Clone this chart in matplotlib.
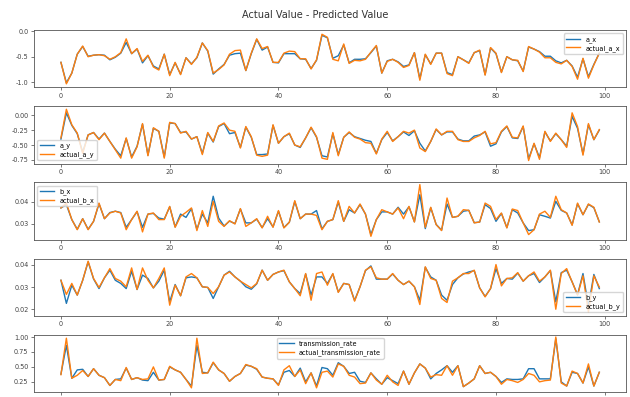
import matplotlib
matplotlib.use("Agg")
import matplotlib.pyplot as plt
import numpy as np

steps = np.arange(100)

a_x = [-0.61, -1.01, -0.82, -0.45, -0.30, -0.49, -0.47, -0.46, -0.47, -0.56,
       -0.51, -0.43, -0.22, -0.44, -0.35, -0.62, -0.48, -0.68, -0.74, -0.45,
       -0.85, -0.62, -0.84, -0.52, -0.64, -0.52, -0.23, -0.39, -0.84, -0.74,
       -0.65, -0.47, -0.44, -0.43, -0.77, -0.44, -0.16, -0.37, -0.31, -0.61,
       -0.62, -0.44, -0.44, -0.44, -0.54, -0.55, -0.73, -0.57, -0.08, -0.13,
       -0.53, -0.48, -0.27, -0.62, -0.55, -0.55, -0.54, -0.42, -0.29, -0.82,
       -0.58, -0.55, -0.60, -0.69, -0.66, -0.42, -0.93, -0.46, -0.64, -0.43,
       -0.43, -0.81, -0.85, -0.50, -0.56, -0.62, -0.42, -0.38, -0.85, -0.33,
       -0.44, -0.80, -0.50, -0.56, -0.58, -0.78, -0.31, -0.35, -0.40, -0.49,
       -0.49, -0.58, -0.62, -0.57, -0.68, -0.90, -0.54, -0.89, -0.65, -0.43]
actual_a_x = [-0.61, -1.03, -0.82, -0.45, -0.29, -0.50, -0.47, -0.46, -0.48, -0.55,
              -0.50, -0.42, -0.15, -0.44, -0.34, -0.59, -0.47, -0.70, -0.76, -0.45,
              -0.87, -0.61, -0.85, -0.52, -0.65, -0.51, -0.23, -0.38, -0.82, -0.75,
              -0.66, -0.45, -0.38, -0.37, -0.77, -0.43, -0.15, -0.34, -0.30, -0.61,
              -0.61, -0.43, -0.39, -0.40, -0.54, -0.54, -0.74, -0.56, -0.06, -0.12,
              -0.55, -0.58, -0.25, -0.63, -0.57, -0.58, -0.55, -0.41, -0.28, -0.82,
              -0.59, -0.55, -0.61, -0.71, -0.67, -0.42, -0.96, -0.45, -0.65, -0.43,
              -0.43, -0.83, -0.87, -0.50, -0.56, -0.63, -0.42, -0.37, -0.86, -0.32,
              -0.43, -0.81, -0.50, -0.56, -0.57, -0.79, -0.30, -0.35, -0.41, -0.52,
              -0.52, -0.61, -0.64, -0.57, -0.69, -0.94, -0.53, -0.92, -0.66, -0.43]

a_y = [-0.40, 0.04, -0.17, -0.31, -0.62, -0.33, -0.29, -0.40, -0.30, -0.44,
       -0.57, -0.68, -0.39, -0.70, -0.52, -0.15, -0.67, -0.22, -0.27, -0.70,
       -0.13, -0.14, -0.29, -0.28, -0.40, -0.36, -0.64, -0.30, -0.45, -0.19,
       -0.14, -0.31, -0.29, -0.54, -0.20, -0.37, -0.66, -0.66, -0.65, -0.17,
       -0.47, -0.36, -0.31, -0.50, -0.54, -0.38, -0.21, -0.37, -0.68, -0.70,
       -0.31, -0.66, -0.37, -0.29, -0.36, -0.39, -0.42, -0.44, -0.64, -0.41,
       -0.29, -0.43, -0.36, -0.28, -0.34, -0.26, -0.47, -0.60, -0.44, -0.24,
       -0.33, -0.28, -0.28, -0.40, -0.43, -0.43, -0.35, -0.33, -0.28, -0.52,
       -0.48, -0.28, -0.19, -0.38, -0.39, -0.19, -0.73, -0.48, -0.71, -0.28,
       -0.43, -0.31, -0.41, -0.52, -0.02, -0.22, -0.65, -0.16, -0.41, -0.25]
actual_a_y = [-0.38, 0.10, -0.16, -0.30, -0.64, -0.33, -0.29, -0.41, -0.30, -0.44,
              -0.58, -0.72, -0.38, -0.72, -0.53, -0.14, -0.68, -0.21, -0.27, -0.72,
              -0.12, -0.14, -0.30, -0.27, -0.40, -0.36, -0.66, -0.29, -0.44, -0.18,
              -0.13, -0.25, -0.27, -0.55, -0.19, -0.36, -0.67, -0.69, -0.67, -0.16,
              -0.47, -0.36, -0.30, -0.50, -0.53, -0.38, -0.20, -0.36, -0.72, -0.74,
              -0.29, -0.68, -0.37, -0.28, -0.37, -0.40, -0.46, -0.47, -0.65, -0.40,
              -0.27, -0.44, -0.36, -0.27, -0.30, -0.25, -0.55, -0.61, -0.44, -0.23,
              -0.33, -0.27, -0.27, -0.41, -0.44, -0.44, -0.38, -0.34, -0.27, -0.48,
              -0.46, -0.27, -0.18, -0.37, -0.38, -0.18, -0.76, -0.47, -0.74, -0.27,
              -0.44, -0.30, -0.41, -0.54, 0.04, -0.19, -0.67, -0.14, -0.41, -0.24]

b_x = [0.0373, 0.0388, 0.0320, 0.0276, 0.0324, 0.0276, 0.0312, 0.0392, 0.0324, 0.0352,
       0.0358, 0.0352, 0.0285, 0.0320, 0.0356, 0.0285, 0.0345, 0.0348, 0.0327, 0.0322,
       0.0378, 0.0287, 0.0345, 0.0330, 0.0370, 0.0276, 0.0345, 0.0305, 0.0426, 0.0327,
       0.0291, 0.0313, 0.0302, 0.0368, 0.0305, 0.0305, 0.0322, 0.0284, 0.0324, 0.0287,
       0.0358, 0.0284, 0.0308, 0.0402, 0.0324, 0.0345, 0.0345, 0.0361, 0.0278, 0.0312,
       0.0320, 0.0400, 0.0312, 0.0365, 0.0350, 0.0388, 0.0345, 0.0252, 0.0320, 0.0355,
       0.0355, 0.0345, 0.0376, 0.0345, 0.0378, 0.0310, 0.0433, 0.0279, 0.0374, 0.0298,
       0.0272, 0.0391, 0.0330, 0.0335, 0.0358, 0.0362, 0.0306, 0.0309, 0.0388, 0.0370,
       0.0312, 0.0348, 0.0284, 0.0365, 0.0350, 0.0305, 0.0270, 0.0274, 0.0342, 0.0335,
       0.0327, 0.0403, 0.0362, 0.0350, 0.0296, 0.0392, 0.0342, 0.0389, 0.0374, 0.0310]
actual_b_x = [0.0373, 0.0395, 0.0320, 0.0274, 0.0324, 0.0274, 0.0312, 0.0395, 0.0324, 0.0350,
              0.0358, 0.0350, 0.0274, 0.0320, 0.0358, 0.0264, 0.0345, 0.0350, 0.0320, 0.0320,
              0.0380, 0.0285, 0.0335, 0.0353, 0.0373, 0.0270, 0.0361, 0.0289, 0.0403, 0.0312,
              0.0289, 0.0315, 0.0300, 0.0370, 0.0289, 0.0305, 0.0324, 0.0282, 0.0335, 0.0285,
              0.0361, 0.0282, 0.0308, 0.0406, 0.0324, 0.0345, 0.0345, 0.0339, 0.0274, 0.0312,
              0.0320, 0.0406, 0.0312, 0.0380, 0.0350, 0.0391, 0.0345, 0.0244, 0.0320, 0.0365,
              0.0355, 0.0345, 0.0373, 0.0324, 0.0380, 0.0309, 0.0479, 0.0285, 0.0376, 0.0297,
              0.0270, 0.0418, 0.0330, 0.0335, 0.0365, 0.0362, 0.0305, 0.0309, 0.0395, 0.0380,
              0.0320, 0.0350, 0.0282, 0.0368, 0.0361, 0.0305, 0.0252, 0.0274, 0.0345, 0.0358,
              0.0330, 0.0426, 0.0365, 0.0350, 0.0294, 0.0395, 0.0342, 0.0391, 0.0376, 0.0309]

b_y = [0.0330, 0.0227, 0.0308, 0.0264, 0.0330, 0.0412, 0.0336, 0.0293, 0.0341, 0.0375,
       0.0330, 0.0316, 0.0293, 0.0370, 0.0289, 0.0353, 0.0338, 0.0296, 0.0326, 0.0375,
       0.0234, 0.0311, 0.0261, 0.0341, 0.0345, 0.0341, 0.0301, 0.0298, 0.0249, 0.0301,
       0.0353, 0.0370, 0.0345, 0.0326, 0.0301, 0.0290, 0.0314, 0.0375, 0.0330, 0.0356,
       0.0367, 0.0373, 0.0323, 0.0293, 0.0271, 0.0358, 0.0264, 0.0345, 0.0345, 0.0316,
       0.0358, 0.0278, 0.0316, 0.0311, 0.0240, 0.0301, 0.0373, 0.0394, 0.0335, 0.0335,
       0.0335, 0.0358, 0.0330, 0.0311, 0.0326, 0.0301, 0.0241, 0.0388, 0.0345, 0.0330,
       0.0264, 0.0241, 0.0311, 0.0341, 0.0358, 0.0367, 0.0373, 0.0296, 0.0258, 0.0293,
       0.0382, 0.0316, 0.0338, 0.0335, 0.0362, 0.0326, 0.0350, 0.0360, 0.0320, 0.0345,
       0.0373, 0.0234, 0.0364, 0.0375, 0.0323, 0.0266, 0.0360, 0.0215, 0.0356, 0.0293]
actual_b_y = [0.0330, 0.0267, 0.0316, 0.0264, 0.0330, 0.0415, 0.0338, 0.0298, 0.0341, 0.0382,
              0.0338, 0.0326, 0.0301, 0.0385, 0.0289, 0.0385, 0.0330, 0.0296, 0.0338, 0.0385,
              0.0219, 0.0308, 0.0261, 0.0345, 0.0360, 0.0341, 0.0301, 0.0298, 0.0271, 0.0301,
              0.0353, 0.0367, 0.0345, 0.0326, 0.0311, 0.0296, 0.0316, 0.0375, 0.0330, 0.0356,
              0.0367, 0.0375, 0.0323, 0.0293, 0.0261, 0.0360, 0.0241, 0.0360, 0.0367, 0.0308,
              0.0360, 0.0276, 0.0316, 0.0311, 0.0237, 0.0301, 0.0375, 0.0390, 0.0341, 0.0335,
              0.0335, 0.0360, 0.0330, 0.0311, 0.0326, 0.0301, 0.0222, 0.0390, 0.0338, 0.0330,
              0.0249, 0.0231, 0.0326, 0.0341, 0.0360, 0.0360, 0.0375, 0.0296, 0.0256, 0.0293,
              0.0400, 0.0305, 0.0338, 0.0341, 0.0364, 0.0326, 0.0350, 0.0367, 0.0326, 0.0345,
              0.0375, 0.0201, 0.0360, 0.0382, 0.0323, 0.0264, 0.0350, 0.0188, 0.0350, 0.0300]

transmission_rate = [0.38, 0.86, 0.31, 0.45, 0.46, 0.34, 0.47, 0.36, 0.32, 0.19,
                     0.29, 0.30, 0.48, 0.29, 0.32, 0.28, 0.27, 0.41, 0.28, 0.29,
                     0.50, 0.45, 0.41, 0.29, 0.18, 0.86, 0.41, 0.40, 0.57, 0.45,
                     0.39, 0.26, 0.34, 0.39, 0.53, 0.51, 0.46, 0.33, 0.31, 0.30,
                     0.20, 0.41, 0.44, 0.34, 0.48, 0.25, 0.40, 0.18, 0.49, 0.47,
                     0.36, 0.57, 0.51, 0.39, 0.41, 0.26, 0.24, 0.40, 0.30, 0.21,
                     0.32, 0.27, 0.22, 0.43, 0.21, 0.40, 0.55, 0.48, 0.30, 0.39,
                     0.45, 0.52, 0.41, 0.52, 0.17, 0.23, 0.30, 0.52, 0.39, 0.41,
                     0.34, 0.24, 0.30, 0.29, 0.29, 0.30, 0.47, 0.47, 0.30, 0.30,
                     0.30, 0.97, 0.25, 0.18, 0.41, 0.39, 0.23, 0.50, 0.18, 0.41]
actual_transmission_rate = [0.37, 0.98, 0.31, 0.36, 0.44, 0.34, 0.47, 0.36, 0.32, 0.19,
                            0.29, 0.27, 0.49, 0.29, 0.32, 0.29, 0.30, 0.50, 0.28, 0.29,
                            0.51, 0.45, 0.41, 0.29, 0.15, 0.98, 0.39, 0.40, 0.58, 0.45,
                            0.39, 0.26, 0.34, 0.39, 0.54, 0.51, 0.47, 0.33, 0.31, 0.30,
                            0.19, 0.45, 0.52, 0.34, 0.45, 0.22, 0.40, 0.15, 0.41, 0.43,
                            0.33, 0.55, 0.51, 0.36, 0.33, 0.22, 0.23, 0.40, 0.28, 0.21,
                            0.36, 0.25, 0.19, 0.43, 0.21, 0.40, 0.55, 0.48, 0.33, 0.37,
                            0.36, 0.52, 0.36, 0.52, 0.17, 0.23, 0.30, 0.52, 0.39, 0.41,
                            0.34, 0.21, 0.29, 0.27, 0.24, 0.29, 0.39, 0.36, 0.25, 0.27,
                            0.28, 1.00, 0.23, 0.18, 0.43, 0.39, 0.23, 0.55, 0.18, 0.41]

panels = [
    ("a_x", a_x, actual_a_x, "upper right", (-1.10, 0.02), [-1.0, -0.5, 0.0], "{:.1f}"),
    ("a_y", a_y, actual_a_y, "lower left", (-0.81, 0.15), [-0.75, -0.5, -0.25, 0.0], "{:.2f}"),
    ("b_x", b_x, actual_b_x, "upper left", (0.0229, 0.0489), [0.03, 0.04], "{:.2f}"),
    ("b_y", b_y, actual_b_y, "lower right", (0.0172, 0.0427), [0.02, 0.03, 0.04], "{:.2f}"),
    ("transmission_rate", transmission_rate, actual_transmission_rate, "upper center",
     (0.083, 1.04), [0.25, 0.5, 0.75, 1.0], "{:.2f}"),
]

fig, axes = plt.subplots(5, 1, figsize=(6.3, 3.97), dpi=100)
fig.subplots_adjust(left=0.054, right=0.994, top=0.924, bottom=0.013, hspace=0.33)

for ax, (name, pred, actual, loc, ylim, yt, fmt) in zip(axes, panels):
    ax.plot(steps, pred, color="#1f77b4", lw=1.0, label=name)
    ax.plot(steps, actual, color="#ff7f0e", lw=1.0, label="actual_" + name)
    ax.set_xlim(-4.95, 103.95)
    ax.set_ylim(*ylim)
    ax.set_xticks([0, 20, 40, 60, 80, 100])
    ax.set_yticks(yt)
    ax.set_yticklabels([fmt.format(v) for v in yt])
    ax.tick_params(labelsize=4.7, length=2, width=0.5, pad=2, colors="#444444")
    for sp in ax.spines.values():
        sp.set_linewidth(0.6)
        sp.set_color("#555555")
    ax.legend(loc=loc, fontsize=4.7, handlelength=2.2, borderpad=0.4,
              labelspacing=0.3, framealpha=0.8)

fig.suptitle("Actual Value - Predicted Value", fontsize=7, y=0.975, color="#333333")
fig.savefig("out.png", dpi=100)
